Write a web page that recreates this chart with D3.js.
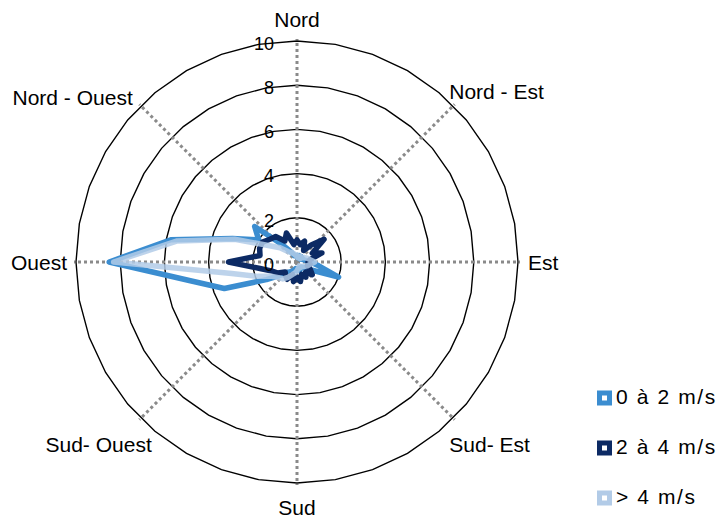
<!DOCTYPE html>
<html>
<head>
<meta charset="utf-8">
<script src="https://cdn.jsdelivr.net/npm/d3@7"></script>
<style>
  html, body { margin: 0; padding: 0; background: #fff; }
  svg { display: block; font-family: "Liberation Sans", Arial, sans-serif; }
</style>
</head>
<body>
<svg id="chart" width="719" height="518"></svg>
<script>
// Wind directions sampled every 10 degrees (bearing from north, clockwise)
const bearings = [0, 10, 20, 30, 40, 50, 60, 70, 80, 90, 100, 110,
                  120, 130, 140, 150, 160, 170, 180, 190, 200, 210, 220, 230,
                  240, 250, 260, 270, 280, 290, 300, 310, 320, 330, 340, 350];

// Compass labels and their bearings
const compassNames = ["Nord", "Nord - Est", "Est", "Sud- Est", "Sud", "Sud- Ouest", "Ouest", "Nord - Ouest"];
const compassBearings = [0, 45, 90, 135, 180, 225, 270, 315];

// Radial tick values
const tickValues = [0, 2, 4, 6, 8, 10];

// Series names (wind speed classes)
const seriesNames = ["0 à 2 m/s", "2 à 4 m/s", "> 4 m/s"];

// Frequency (%) per direction for each speed class
const speed0to2 = [0.3, 0.2, 0.3, 0.2, 0.3, 0.2, 0.3, 0.3, 0.4, 0.6, 1.0, 2.0,
                   0.7, 0.4, 0.3, 0.3, 0.4, 0.3, 0.4, 0.3, 0.4, 0.5, 0.6, 0.9,
                   1.6, 3.5, 4.9, 8.5, 5.8, 3.1, 2.0, 2.5, 1.0, 0.5, 0.3, 0.3];
const speed2to4 = [1.0, 0.8, 1.0, 0.6, 1.0, 1.6, 0.8, 1.2, 0.6, 0.5, 0.6, 0.5,
                   0.7, 0.9, 0.6, 0.8, 0.6, 0.9, 0.7, 0.9, 0.6, 0.9, 0.8, 0.7,
                   1.0, 1.2, 1.7, 3.1, 1.7, 1.8, 1.8, 1.6, 1.5, 1.1, 1.4, 0.8];
const speedAbove4 = [0.3, 0.2, 0.2, 0.3, 0.2, 0.3, 0.4, 0.5, 0.6, 0.8, 0.6, 0.5,
                     0.4, 0.3, 0.3, 0.2, 0.3, 0.3, 0.4, 0.5, 0.6, 0.8, 1.0, 1.1,
                     1.3, 1.9, 3.0, 8.3, 5.5, 3.0, 1.5, 1.0, 0.6, 0.5, 0.4, 0.3];

const seriesValues = [speed0to2, speed2to4, speedAbove4];
const seriesColors = ["#3b8dd0", "#0c2a64", "#b2cbe7"];

// ---- layout ----
const cx = 297, cy = 262, R = 221;
const svg = d3.select("#chart");
const g = svg.append("g").attr("transform", `translate(${cx},${cy})`);

const r = d3.scaleLinear().domain([0, 10]).range([0, R]);
const ang = d3.scaleLinear().domain([0, 360]).range([0, 2 * Math.PI]);

const radial = d3.lineRadial()
  .angle(d => ang(d.b))
  .radius(d => r(d.v))
  .curve(d3.curveLinearClosed);

// concentric grid polygons (one vertex per direction)
g.selectAll("path.ring")
  .data(tickValues.filter(t => t > 0))
  .join("path")
  .attr("class", "ring")
  .attr("d", t => radial(bearings.map(b => ({ b, v: t }))))
  .attr("fill", "none")
  .attr("stroke", "#000")
  .attr("stroke-width", 1.4);

// dotted compass axes
g.selectAll("line.axis")
  .data(compassBearings)
  .join("line")
  .attr("class", "axis")
  .attr("x1", 0).attr("y1", 0)
  .attr("x2", b => (r(10) + 2) * Math.sin(ang(b)))
  .attr("y2", b => -(r(10) + 2) * Math.cos(ang(b)))
  .attr("stroke", "#8a8a8a")
  .attr("stroke-width", 3)
  .attr("stroke-dasharray", "3,3");

// series outlines
seriesValues.forEach((vals, k) => {
  g.append("path")
    .attr("d", radial(vals.map((v, i) => ({ b: bearings[i], v }))))
    .attr("fill", "none")
    .attr("stroke", seriesColors[k])
    .attr("stroke-width", 5.5)
    .attr("stroke-linejoin", "round")
    .attr("opacity", k === 2 ? 0.85 : 1);
});

// radial tick labels along the north axis
g.selectAll("text.tick")
  .data(tickValues)
  .join("text")
  .attr("class", "tick")
  .attr("x", -23)
  .attr("y", t => -r(t) + 4)
  .attr("text-anchor", "end")
  .attr("dominant-baseline", "middle")
  .attr("font-size", 18)
  .attr("fill", "#000")
  .text(t => t);

// compass labels placed just outside the outer ring
function labelPos(b) {
  const a = ang(b), s = Math.sin(a), c = Math.cos(a);
  const px = r(10) * s, py = -r(10) * c;
  let anchor = "middle", dx = 0, dy;
  if (s > 0.1) { anchor = "start"; dx = s > 0.9 ? 10 : -4; }
  else if (s < -0.1) { anchor = "end"; dx = s < -0.9 ? -9 : (c > 0 ? -8 : 11); }
  if (c > 0.9) dy = -14;
  else if (c > 0.1) dy = s > 0 ? -7 : -1;
  else if (c > -0.1) dy = 8;
  else dy = c < -0.9 ? 32 : 34;
  return { x: px + dx, y: py + dy, anchor };
}

g.selectAll("text.compass")
  .data(compassBearings)
  .join("text")
  .attr("class", "compass")
  .each(function (b, i) {
    const p = labelPos(b);
    d3.select(this)
      .attr("x", p.x).attr("y", p.y)
      .attr("text-anchor", p.anchor)
      .text(compassNames[i]);
  })
  .attr("font-size", 21)
  .attr("fill", "#000");

// legend
const legend = svg.append("g").attr("transform", "translate(597,398)");
const rows = legend.selectAll("g")
  .data(seriesNames)
  .join("g")
  .attr("transform", (d, i) => `translate(0,${i * 50})`);
rows.append("rect")
  .attr("x", 2.5).attr("y", -5)
  .attr("width", 10).attr("height", 10)
  .attr("fill", "#fff")
  .attr("stroke", (d, i) => seriesColors[i])
  .attr("stroke-width", 5);
rows.append("text")
  .attr("x", 19)
  .attr("y", 0)
  .attr("dominant-baseline", "middle")
  .attr("font-size", 21)
  .attr("letter-spacing", 1.6)
  .attr("fill", "#000")
  .text(d => d);
</script>
</body>
</html>
